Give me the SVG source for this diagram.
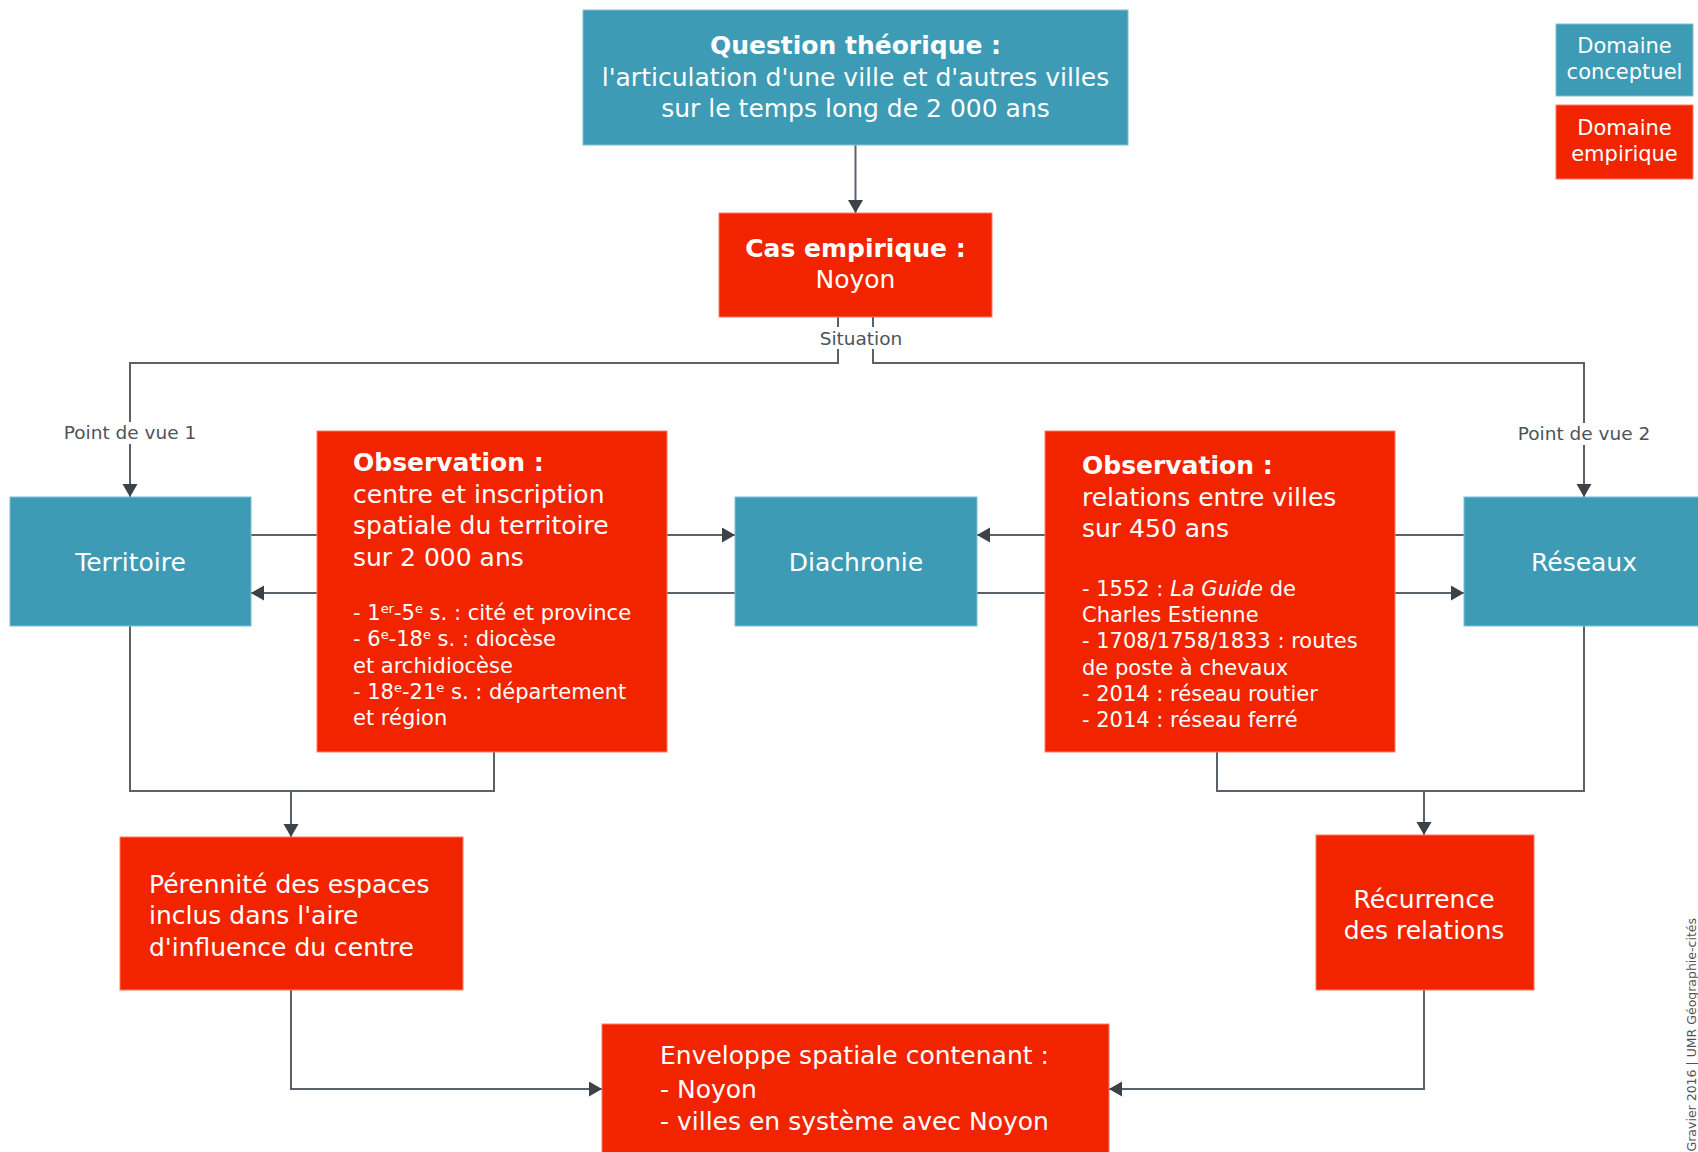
<svg xmlns="http://www.w3.org/2000/svg" width="1698" height="1152" viewBox="0 0 1698 1152">
<style>
  text { font-family: "DejaVu Sans", Verdana, sans-serif; fill: #ffffff; }
  .t25 { font-size: 25px; }
  .t21 { font-size: 21px; }
  .b { font-weight: bold; }
  .mid { text-anchor: middle; }
  .concept { fill: #3d9bb5; stroke: #7fc0d2; stroke-width: 1; }
  .empir { fill: #f22400; stroke: #ff7a63; stroke-width: 1; }
  .line { fill: none; stroke: #5b6168; stroke-width: 2; }
  .lbl { font-size: 18.5px; fill: #4d5359; text-anchor: middle; }
  .lblbg { fill: #ffffff; }
  .sup { font-size: 13px; }
  .credit { font-size: 12.5px; fill: #4d5359; }
</style>
<defs>
  <marker id="arr" markerUnits="userSpaceOnUse" markerWidth="14" markerHeight="16" refX="13" refY="7.5" orient="auto">
    <path d="M0,0 L13,7.5 L0,15 z" fill="#3c4248"/>
  </marker>
</defs>

<g id="connectors">
  <path class="line" d="M855.5,145 V213" marker-end="url(#arr)"/>
  <path class="line" d="M838,317 V363 H130 V497" marker-end="url(#arr)"/>
  <path class="line" d="M873,317 V363 H1584 V497" marker-end="url(#arr)"/>
  <path class="line" d="M251,535 H735" marker-end="url(#arr)"/>
  <path class="line" d="M735,593 H251" marker-end="url(#arr)"/>
  <path class="line" d="M1464,535 H977" marker-end="url(#arr)"/>
  <path class="line" d="M977,593 H1464" marker-end="url(#arr)"/>
  <path class="line" d="M130,626 V791 H291 V837" marker-end="url(#arr)"/>
  <path class="line" d="M494,752 V791 H291"/>
  <path class="line" d="M1584,626 V791 H1424 V835" marker-end="url(#arr)"/>
  <path class="line" d="M1217,752 V791 H1424"/>
  <path class="line" d="M291,990 V1089 H602" marker-end="url(#arr)"/>
  <path class="line" d="M1424,990 V1089 H1109" marker-end="url(#arr)"/>
  <rect class="lblbg" x="816" y="327" width="90" height="22"/>
  <text class="lbl" x="861" y="345">Situation</text>
  <rect class="lblbg" x="62" y="422" width="136" height="22"/>
  <text class="lbl" x="130" y="439">Point de vue 1</text>
  <rect class="lblbg" x="1516" y="423" width="136" height="22"/>
  <text class="lbl" x="1584" y="440">Point de vue 2</text>
</g>

<g id="question">
  <rect class="concept" x="583" y="10" width="545" height="135"/>
  <text class="t25 b mid" x="855.5" y="54">Question théorique :</text>
  <text class="t25 mid" x="855.5" y="86">l'articulation d'une ville et d'autres villes</text>
  <text class="t25 mid" x="855.5" y="117">sur le temps long de 2 000 ans</text>
</g>

<g id="cas">
  <rect class="empir" x="719" y="213" width="273" height="104"/>
  <text class="t25 b mid" x="855.5" y="257">Cas empirique :</text>
  <text class="t25 mid" x="855.5" y="288">Noyon</text>
</g>

<g id="territoire">
  <rect class="concept" x="10" y="497" width="241" height="129"/>
  <text class="t25 mid" x="130.5" y="571">Territoire</text>
</g>

<g id="obs-territoire">
  <rect class="empir" x="317" y="431" width="350" height="321"/>
  <text class="t25 b" x="353" y="471">Observation :</text>
  <text class="t25" x="353" y="503">centre et inscription</text>
  <text class="t25" x="353" y="534">spatiale du territoire</text>
  <text class="t25" x="353" y="566">sur 2 000 ans</text>
  <text class="t21" x="353" y="620">- 1<tspan class="sup" baseline-shift="super">er</tspan>-5<tspan class="sup" baseline-shift="super">e</tspan> s. : cité et province</text>
  <text class="t21" x="353" y="646">- 6<tspan class="sup" baseline-shift="super">e</tspan>-18<tspan class="sup" baseline-shift="super">e</tspan> s. : diocèse</text>
  <text class="t21" x="353" y="673">et archidiocèse</text>
  <text class="t21" x="353" y="699">- 18<tspan class="sup" baseline-shift="super">e</tspan>-21<tspan class="sup" baseline-shift="super">e</tspan> s. : département</text>
  <text class="t21" x="353" y="725">et région</text>
</g>

<g id="diachronie">
  <rect class="concept" x="735" y="497" width="242" height="129"/>
  <text class="t25 mid" x="856" y="571">Diachronie</text>
</g>

<g id="obs-reseaux">
  <rect class="empir" x="1045" y="431" width="350" height="321"/>
  <text class="t25 b" x="1082" y="474">Observation :</text>
  <text class="t25" x="1082" y="506">relations entre villes</text>
  <text class="t25" x="1082" y="537">sur 450 ans</text>
  <text class="t21" x="1082" y="596">- 1552 : <tspan font-style="italic">La Guide</tspan> de</text>
  <text class="t21" x="1082" y="622">Charles Estienne</text>
  <text class="t21" x="1082" y="648">- 1708/1758/1833 : routes</text>
  <text class="t21" x="1082" y="675">de poste à chevaux</text>
  <text class="t21" x="1082" y="701">- 2014 : réseau routier</text>
  <text class="t21" x="1082" y="727">- 2014 : réseau ferré</text>
</g>

<g id="reseaux">
  <rect class="concept" x="1464" y="497" width="241" height="129"/>
  <text class="t25 mid" x="1584" y="571">Réseaux</text>
</g>

<g id="perennite">
  <rect class="empir" x="120" y="837" width="343" height="153"/>
  <text class="t25" x="149" y="893">Pérennité des espaces</text>
  <text class="t25" x="149" y="924">inclus dans l'aire</text>
  <text class="t25" x="149" y="956">d'influence du centre</text>
</g>

<g id="recurrence">
  <rect class="empir" x="1316" y="835" width="218" height="155"/>
  <text class="t25 mid" x="1424" y="908">Récurrence</text>
  <text class="t25 mid" x="1424" y="939">des relations</text>
</g>

<g id="enveloppe">
  <rect class="empir" x="602" y="1024" width="507" height="140"/>
  <text class="t25" x="660" y="1064">Enveloppe spatiale contenant :</text>
  <text class="t25" x="660" y="1098">- Noyon</text>
  <text class="t25" x="660" y="1130">- villes en système avec Noyon</text>
</g>

<g id="legend-conceptuel">
  <rect class="concept" x="1556" y="24" width="137" height="72"/>
  <text class="t21 mid" x="1624.5" y="53">Domaine</text>
  <text class="t21 mid" x="1624.5" y="79">conceptuel</text>
</g>

<g id="legend-empirique">
  <rect class="empir" x="1556" y="105" width="137" height="74"/>
  <text class="t21 mid" x="1624.5" y="135">Domaine</text>
  <text class="t21 mid" x="1624.5" y="161">empirique</text>
</g>

<text class="credit" transform="translate(1696,918) rotate(-90)" text-anchor="end">| Gravier 2016 | UMR Géographie-cités</text>
</svg>
